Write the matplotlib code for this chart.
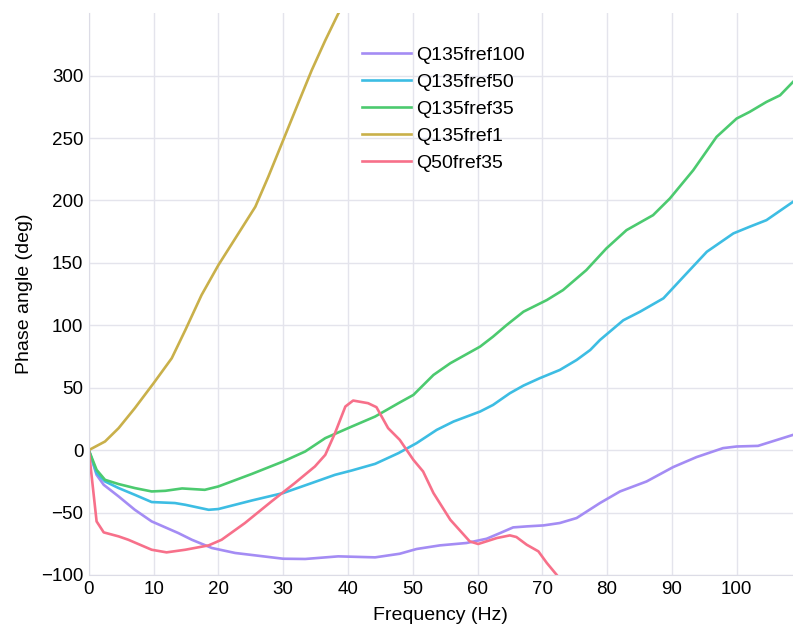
import numpy as np
import matplotlib.pyplot as plt

plt.rcParams['font.family'] = ['Liberation Sans', 'DejaVu Sans']

# Phase angle (deg) vs frequency (Hz)
f_q135_100 = [0, 1.2, 2.3, 4.6, 7.1, 9.7, 13.8, 15.9, 19, 22.6, 30, 33.4, 38.5, 44.2, 48, 50.6,
              54.2, 58.3, 61.4, 63.5, 65.5, 67.6, 70.2, 72.7, 75.3, 78.9, 82, 86.1, 90.2, 93.8,
              97.9, 100, 103.3, 108.7]
p_q135_100 = [0, -19.8, -27.8, -37.1, -47.8, -57.1, -66.4, -71.8, -78.4, -82.4, -87, -87.2, -85.1,
              -85.9, -83, -79.2, -76.3, -74.4, -71, -66.4, -61.9, -61.1, -60.3, -58.4, -54.4,
              -42.4, -33.1, -25.1, -13.6, -5.6, 1.6, 2.9, 3.4, 12.2]

f_q135_50 = [0, 1.2, 2.5, 4.6, 7.1, 9.7, 13.3, 14.9, 18.5, 20, 25.2, 30, 34.4, 38, 40.6, 44.2,
             47.8, 50.6, 53.7, 56.3, 60.4, 62.4, 65, 67.1, 69.6, 72.7, 75.3, 77.4, 78.9, 82.5,
             85.1, 88.7, 91.8, 95.4, 99.5, 102, 104.6, 108.7]
p_q135_50 = [0, -18.4, -25.1, -30.4, -35.8, -41.6, -42.4, -43.8, -47.8, -47.2, -40.3, -34.4, -26.4,
             -19.8, -16.3, -11, -2.4, 5.6, 16.2, 22.9, 30.9, 36.2, 45.6, 51.7, 57.6, 64.2, 72.2,
             80.2, 88.2, 104, 110.9, 121.6, 138.9, 158.9, 173.6, 178.9, 184.2, 198.9]

f_q135_35 = [0, 1.2, 2.5, 4.6, 7.1, 9.7, 11.8, 14.4, 17.9, 20, 25.2, 30, 33.4, 36.5, 40.6, 44.2,
             47.8, 50.1, 53.2, 55.8, 60.4, 62.4, 64.5, 67.1, 70.7, 73.2, 76.8, 79.9, 83, 87.1,
             89.7, 93.3, 96.9, 100, 102, 104.6, 106.7, 108.7]
p_q135_35 = [0, -15.8, -23.8, -27.2, -30.4, -33.1, -32.6, -30.7, -31.8, -29.1, -19, -9.1, -1.1,
             9.6, 18.9, 26.9, 37.6, 44.2, 60.2, 69.6, 82.9, 90.9, 100.2, 110.9, 120.2, 128.2,
             144.2, 161.6, 176.2, 188.2, 201.6, 224.2, 250.9, 265.6, 270.9, 278.9, 284.2, 294.9]

f_q135_1 = [0, 2.5, 4.6, 7.1, 10, 12.8, 14.9, 17.4, 20, 23.1, 25.7, 27.7, 30, 32.3, 34.4, 36.5,
            38.5, 40]
p_q135_1 = [0, 6.9, 17.6, 33.6, 53.6, 73.6, 96.2, 124.2, 148.2, 173.6, 194.9, 218.9, 248.2,
            277.6, 304.2, 328.2, 349.6, 362]

f_q50_35 = [0, 1.2, 2.3, 4.6, 6.1, 9.7, 12, 14.9, 18.5, 20.5, 24.1, 28.2, 31.8, 34.9, 36.5, 38,
            39.6, 40.8, 43.1, 44.4, 46.2, 48, 50.1, 51.6, 53.2, 55.8, 58.8, 60.1, 63, 65, 66,
            67.6, 69.4, 70.7, 72.2, 74]
p_q50_35 = [0, -57.1, -65.9, -69.1, -71.8, -79.8, -81.9, -79.8, -76.3, -71.8, -58.4, -41.1,
            -26.4, -13.1, -3.8, 13.6, 34.9, 39.7, 37.6, 34.4, 17.6, 8.2, -7.8, -17.1, -34.4,
            -55.8, -73.1, -75.2, -70.4, -68.3, -69.6, -75.8, -81.1, -90.4, -99.8, -112]

series = [
    ("Q135fref100", f_q135_100, p_q135_100, "#a48cf4"),
    ("Q135fref50", f_q135_50, p_q135_50, "#3dbde3"),
    ("Q135fref35", f_q135_35, p_q135_35, "#4cca6f"),
    ("Q135fref1", f_q135_1, p_q135_1, "#c9b04a"),
    ("Q50fref35", f_q50_35, p_q50_35, "#f7708a"),
]

fig, ax = plt.subplots(figsize=(7.93, 6.27), dpi=100)
fig.subplots_adjust(left=0.112, right=1.0, top=0.979, bottom=0.083)

for name, f, p, c in series:
    ax.plot(f, p, color=c, lw=1.9, label=name, solid_joinstyle="round")

ax.set_xlim(0, 108.7)
ax.set_ylim(-100, 350)
ax.set_xticks(np.arange(0, 101, 10))
ax.set_yticks(np.arange(-100, 301, 50))
ax.grid(True, color="#e4e4ec", lw=1)
ax.set_axisbelow(True)
for s in ["top", "right"]:
    ax.spines[s].set_visible(False)
for s in ["left", "bottom"]:
    ax.spines[s].set_color("#dcdce6")
ax.tick_params(length=0, labelsize=13.5, pad=4)
ax.set_xlabel("Frequency (Hz)", fontsize=14, labelpad=7)
ax.set_ylabel("Phase angle (deg)", fontsize=14, labelpad=6)

ax.legend(loc="upper left", bbox_to_anchor=(0.388, 0.941), frameon=False, fontsize=14,
          borderpad=0, borderaxespad=0, handlelength=2.5, handletextpad=0.3, labelspacing=0.48)

fig.savefig("out.png")
